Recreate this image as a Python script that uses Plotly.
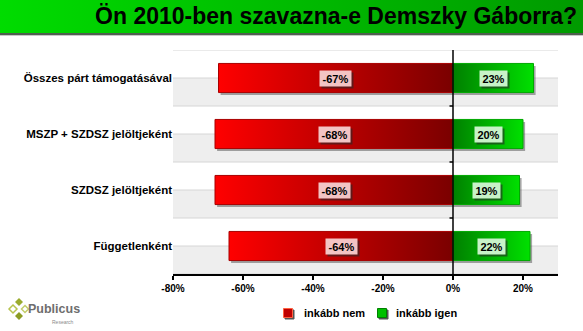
import base64
import plotly.graph_objects as go

# ---- data ----
categories = ["Összes párt támogatásával", "MSZP + SZDSZ jelöltjeként",
              "SZDSZ jelöltjeként", "Függetlenként"]
no_values = [-67, -68, -68, -64]
yes_values = [23, 20, 19, 22]
series_names = ["inkább nem", "inkább igen"]
x_tickvals = [-80, -60, -40, -20, 0, 20]
x_ticktext = ["-80%", "-60%", "-40%", "-20%", "0%", "20%"]
title_text = "Ön 2010-ben szavazna-e Demszky Gáborra?"

W, H = 583, 331
ML, MR, MT, MB = 173, 25, 50, 57
PW, PH = W - ML - MR, H - MT - MB
FONT = "Arial, Liberation Sans, sans-serif"


def px_x(px):
    return (px - ML) / PW


def px_y(py):
    return (H - MB - py) / PH


def text_w(s, size=11):
    widths = {"-": 0.333, "%": 0.889}
    return sum(widths.get(c, 0.556) for c in s) * size


n = len(categories)
half = 0.26
fig = go.Figure()

# shadows
dx, dy = 0.6, 0.045
for i, (a, b) in enumerate(zip(no_values, yes_values)):
    for v in (a, b):
        lo, hi = min(v, 0), max(v, 0)
        fig.add_trace(go.Scatter(
            x=[lo + dx, hi + dx, hi + dx, lo + dx, lo + dx],
            y=[i - half + dy, i - half + dy, i + half + dy, i + half + dy, i - half + dy],
            fill="toself", fillcolor="rgba(60,60,60,0.45)", mode="lines",
            line=dict(width=0), hoverinfo="skip", showlegend=False))

# bars with gradient
for i, v in enumerate(no_values):
    fig.add_trace(go.Scatter(
        x=[v, 0, 0, v, v], y=[i - half, i - half, i + half, i + half, i - half],
        fill="toself", mode="lines", line=dict(color="#a80000", width=1),
        fillgradient=dict(type="horizontal",
                          colorscale=[[0, "#ff0000"], [1, "#7a0000"]]),
        hoverinfo="skip", showlegend=False, name=series_names[0]))
for i, v in enumerate(yes_values):
    fig.add_trace(go.Scatter(
        x=[0, v, v, 0, 0], y=[i - half, i - half, i + half, i + half, i - half],
        fill="toself", mode="lines", line=dict(color="#00a800", width=1),
        fillgradient=dict(type="horizontal",
                          colorscale=[[0, "#008000"], [1, "#00e000"]]),
        hoverinfo="skip", showlegend=False, name=series_names[1]))

shapes = []
# background bands and grid lines
for i in range(n):
    shapes.append(dict(type="rect", xref="paper", yref="y", x0=0, x1=1, y0=i, y1=i + 0.5,
                       fillcolor="#eeeeee", line=dict(width=0), layer="below"))
for k in range(2 * n + 1):
    yv = -0.5 + 0.5 * k
    shapes.append(dict(type="line", xref="paper", yref="y", x0=0, x1=1, y0=yv, y1=yv,
                       line=dict(color="#d6d6d6", width=1), layer="below"))
# vertical axis at 0 with ticks
shapes.append(dict(type="line", xref="x", yref="y", x0=0, x1=0, y0=-0.5, y1=n - 0.5,
                   line=dict(color="black", width=1.5), layer="above"))
for i in range(n - 1):
    shapes.append(dict(type="line", xref="x", yref="y", x0=0, x1=-1.0, y0=i + 0.5, y1=i + 0.5,
                       line=dict(color="black", width=1.5), layer="above"))


# logo diamonds
def diamond(cx, cy, r, color, filled=True):
    x0, y0 = px_x(cx), px_y(cy)
    rx, ry = r / PW, r / PH
    path = (f"M {x0},{y0 + ry} L {x0 + rx},{y0} L {x0},{y0 - ry} L {x0 - rx},{y0} Z")
    return dict(type="path", xref="paper", yref="paper", path=path,
                fillcolor=color if filled else "white",
                line=dict(color=color, width=1.5 if not filled else 0))


shapes += [diamond(19, 302, 4, "#9aab2e"), diamond(13, 309, 4, "#b7c34e", False),
           diamond(19, 316, 4, "#8c9c24"), diamond(25, 309, 3.5, "#c3cd6a", False)]


# manual legend
def legend_square(cx, cy, s, fill, edge):
    return dict(type="rect", xref="paper", yref="paper",
                x0=px_x(cx - s / 2), x1=px_x(cx + s / 2),
                y0=px_y(cy + s / 2), y1=px_y(cy - s / 2),
                fillcolor=fill, line=dict(color=edge, width=1))


shapes += [legend_square(289.5, 314.5, 9, "#555555", "#555555"),
           legend_square(288, 313, 9, "#c00000", "#ff6040"),
           legend_square(383.5, 314.5, 9, "#555555", "#555555"),
           legend_square(382, 313, 9, "#00c000", "#008000")]

annotations = []
for i, (a, b) in enumerate(zip(no_values, yes_values)):
    for v, bg in ((a, "#f3c4c4"), (b, "#c8f2c8")):
        label = f"{v}%"
        bw = round(text_w(label)) + 5
        annotations.append(dict(x=v / 2, y=i, xref="x", yref="y", text=" ", showarrow=False,
                                width=bw, height=15, borderpad=0,
                                font=dict(size=11, family=FONT),
                                bgcolor="rgba(40,40,40,0.6)", xshift=2, yshift=-2))
        annotations.append(dict(x=v / 2, y=i, xref="x", yref="y", text=f"<b>{label}</b>",
                                showarrow=False, width=bw, height=15, borderpad=0,
                                font=dict(size=11, color="black", family=FONT),
                                bgcolor=bg))

annotations.append(dict(x=px_x(302), y=px_y(313), xref="paper", yref="paper",
                        text=f"<b>{series_names[0]}</b>", showarrow=False, xanchor="left",
                        yanchor="middle", font=dict(size=11, color="black", family=FONT)))
annotations.append(dict(x=px_x(394), y=px_y(313), xref="paper", yref="paper",
                        text=f"<b>{series_names[1]}</b>", showarrow=False, xanchor="left",
                        yanchor="middle", font=dict(size=11, color="black", family=FONT)))

# logo text
annotations.append(dict(x=px_x(26), y=px_y(309), xref="paper", yref="paper",
                        text="<b>Publicus</b>", showarrow=False, xanchor="left",
                        yanchor="middle", font=dict(size=12.5, color="#6e6e6e", family=FONT)))
annotations.append(dict(x=px_x(76), y=px_y(322), xref="paper", yref="paper",
                        text="Research", showarrow=False, xanchor="right",
                        yanchor="middle", font=dict(size=5, color="#8a8a8a", family=FONT)))

# title bar as SVG image
svg = (f'<svg xmlns="http://www.w3.org/2000/svg" width="{W}" height="36" '
       f'viewBox="0 0 {W} 36" preserveAspectRatio="none">'
       '<defs><linearGradient id="g" x1="0" y1="0" x2="1" y2="0">'
       '<stop offset="0" stop-color="#00dc00"/><stop offset="1" stop-color="#009a00"/>'
       '</linearGradient></defs>'
       f'<rect x="0" y="0" width="{W}" height="33" fill="url(#g)"/>'
       f'<rect x="0" y="33" width="{W}" height="2" fill="#4f5f4f"/>'
       f'<rect x="0" y="35" width="{W}" height="1" fill="#c8c8c8"/>'
       '</svg>')
uri = "data:image/svg+xml;base64," + base64.b64encode(svg.encode()).decode()
images = [dict(source=uri, xref="paper", yref="paper", x=px_x(0), y=px_y(0),
               sizex=W / PW, sizey=36 / PH, sizing="stretch", xanchor="left",
               yanchor="top", layer="below")]

fig.update_layout(
    width=W, height=H, margin=dict(l=ML, r=MR, t=MT, b=MB),
    paper_bgcolor="white", plot_bgcolor="white",
    font=dict(family=FONT, color="black"),
    title=dict(text=f"<b>{title_text}</b>", xref="container", yref="container",
               x=577 / W, xanchor="right", y=1 - 16 / H, yanchor="middle",
               font=dict(size=23, color="black", family=FONT)),
    xaxis=dict(range=[-80, 30], tickvals=x_tickvals, ticktext=x_ticktext,
               showgrid=False, zeroline=False, showline=True, linecolor="black",
               linewidth=1.5, ticks="outside", ticklen=4, tickcolor="black",
               tickwidth=1.5, tickfont=dict(size=10, family=FONT, weight="bold"),
               fixedrange=True),
    yaxis=dict(range=[n - 0.5, -0.5], tickvals=list(range(n)), ticktext=categories,
               showgrid=False, zeroline=False, showline=False, ticks="",
               tickfont=dict(size=11.5, family=FONT, weight="bold"), fixedrange=True),
    showlegend=False,
    shapes=shapes, annotations=annotations, images=images,
)

fig.write_html("out.html")
